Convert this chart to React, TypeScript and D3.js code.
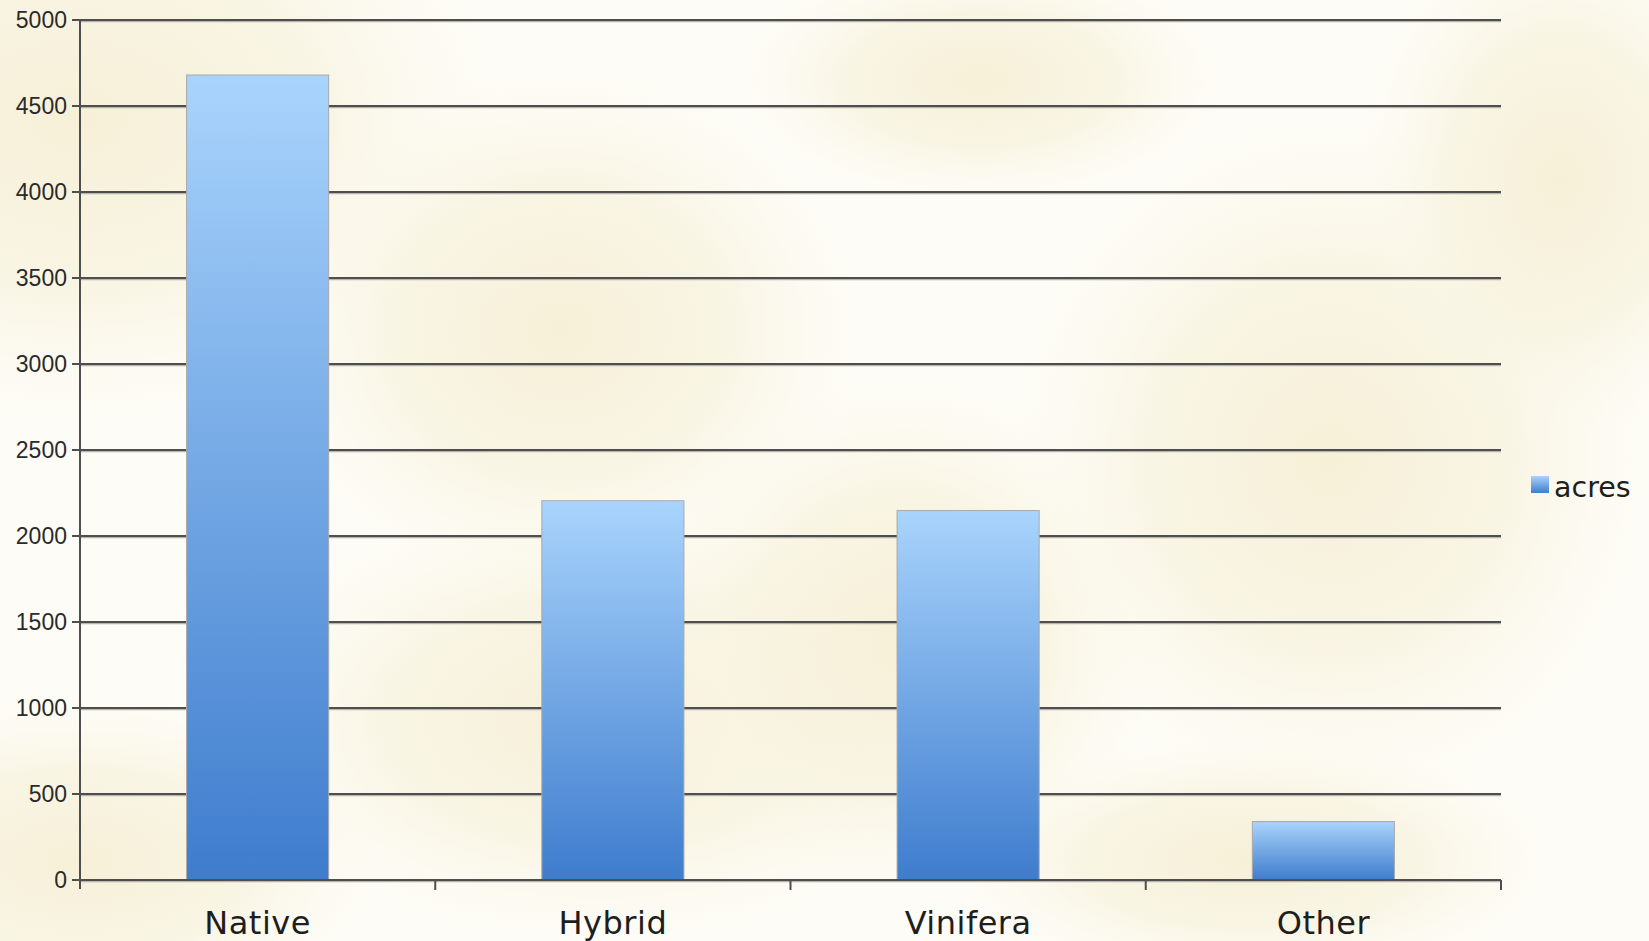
import { useEffect, useRef } from 'react';
import * as d3 from 'd3';

const categories = ['Native', 'Hybrid', 'Vinifera', 'Other'];
const acres = [4680, 2205, 2148, 340];
const yTicks = [0, 500, 1000, 1500, 2000, 2500, 3000, 3500, 4000, 4500, 5000];
const seriesName = 'acres';

export default function App() {
  const svgRef = useRef<SVGSVGElement>(null);

  useEffect(() => {
    if (!svgRef.current) return;
    const width = 1649;
    const height = 941;
    const svg = d3.select(svgRef.current);
    svg.selectAll('*').remove();
    svg.attr('width', width).attr('height', height).attr('viewBox', `0 0 ${width} ${height}`);

    const defs = svg.append('defs');

    // Bar gradient (light top, deeper blue bottom)
    const barGrad = defs.append('linearGradient').attr('id', 'bar-grad')
      .attr('x1', 0).attr('y1', 0).attr('x2', 0).attr('y2', 1);
    barGrad.append('stop').attr('offset', '0%').attr('stop-color', '#a9d4fc');
    barGrad.append('stop').attr('offset', '100%').attr('stop-color', '#3e7ccd');

    // Soft cream blotches in the background
    const blob = defs.append('radialGradient').attr('id', 'blob');
    blob.append('stop').attr('offset', '0%').attr('stop-color', '#f6f0d8').attr('stop-opacity', 1);
    blob.append('stop').attr('offset', '55%').attr('stop-color', '#f8f3df').attr('stop-opacity', 0.8);
    blob.append('stop').attr('offset', '100%').attr('stop-color', '#fbf8ea').attr('stop-opacity', 0);

    svg.append('rect').attr('width', width).attr('height', height).attr('fill', '#fdfcf6');
    const blobs: [number, number, number, number][] = [
      [80, 120, 420, 300],
      [560, 330, 300, 260],
      [600, 720, 380, 220],
      [900, 640, 260, 260],
      [1330, 460, 320, 340],
      [1560, 180, 200, 260],
      [80, 860, 300, 160],
      [980, 80, 240, 120],
      [1250, 860, 300, 120],
    ];
    blobs.forEach(([cx, cy, rx, ry]) => {
      svg.append('ellipse').attr('cx', cx).attr('cy', cy).attr('rx', rx).attr('ry', ry)
        .attr('fill', 'url(#blob)');
    });

    const left = 80;
    const right = 1501;
    const top = 20;
    const bottom = 880;

    const x = d3.scaleBand().domain(categories).range([left, right]).paddingInner(0.6).paddingOuter(0.3);
    const xEdge = d3.scaleBand().domain(categories).range([left, right]);
    const y = d3.scaleLinear().domain([0, 5000]).range([bottom, top]);

    // Gridlines
    yTicks.forEach((t) => {
      svg.append('line')
        .attr('x1', left).attr('x2', right)
        .attr('y1', y(t) + 1.5).attr('y2', y(t) + 1.5)
        .attr('stroke', '#b8b6ac').attr('stroke-width', 1.5);
      svg.append('line')
        .attr('x1', left - 8).attr('x2', right)
        .attr('y1', y(t)).attr('y2', y(t))
        .attr('stroke', '#4e4e4e').attr('stroke-width', 2);
    });

    // Y axis line
    svg.append('line').attr('x1', left).attr('x2', left).attr('y1', top).attr('y2', bottom + 9)
      .attr('stroke', '#4e4e4e').attr('stroke-width', 2);

    // Bottom category ticks
    categories.forEach((c) => {
      const xe = (xEdge(c) as number) + xEdge.bandwidth();
      svg.append('line').attr('x1', xe).attr('x2', xe).attr('y1', bottom).attr('y2', bottom + 10)
        .attr('stroke', '#4e4e4e').attr('stroke-width', 2);
    });

    // Y tick labels
    yTicks.forEach((t) => {
      svg.append('text')
        .attr('x', 67).attr('y', y(t)).attr('dy', '0.36em')
        .attr('text-anchor', 'end')
        .attr('font-family', 'Liberation Sans, Arial, sans-serif')
        .attr('font-size', 23)
        .attr('fill', '#2a2a2a')
        .text(t);
    });

    // Bars
    categories.forEach((c, i) => {
      svg.append('rect')
        .attr('x', x(c) as number)
        .attr('y', y(acres[i]))
        .attr('width', x.bandwidth())
        .attr('height', bottom - y(acres[i]))
        .attr('fill', 'url(#bar-grad)')
        .attr('stroke', '#a9a9a9')
        .attr('stroke-width', 1);
    });

    // Redraw baseline on top of bars
    svg.append('line').attr('x1', left - 8).attr('x2', right).attr('y1', bottom).attr('y2', bottom)
      .attr('stroke', '#4e4e4e').attr('stroke-width', 2);

    // Category labels
    categories.forEach((c) => {
      svg.append('text')
        .attr('x', (x(c) as number) + x.bandwidth() / 2)
        .attr('y', 934)
        .attr('text-anchor', 'middle')
        .attr('font-family', 'DejaVu Sans, sans-serif')
        .attr('font-size', 32)
        .attr('letter-spacing', 0.5)
        .attr('fill', '#1e1e1e')
        .text(c);
    });

    // Legend
    svg.append('rect').attr('x', 1531).attr('y', 476).attr('width', 18).attr('height', 17)
      .attr('fill', 'url(#bar-grad)');
    svg.append('text')
      .attr('x', 1554).attr('y', 497)
      .attr('font-family', 'DejaVu Sans, sans-serif')
      .attr('font-size', 28.5)
      .attr('fill', '#1e1e1e')
      .text(seriesName);
  }, []);

  return <svg ref={svgRef} style={{ position: 'absolute', left: 0, top: 0, display: 'block' }} />;
}
